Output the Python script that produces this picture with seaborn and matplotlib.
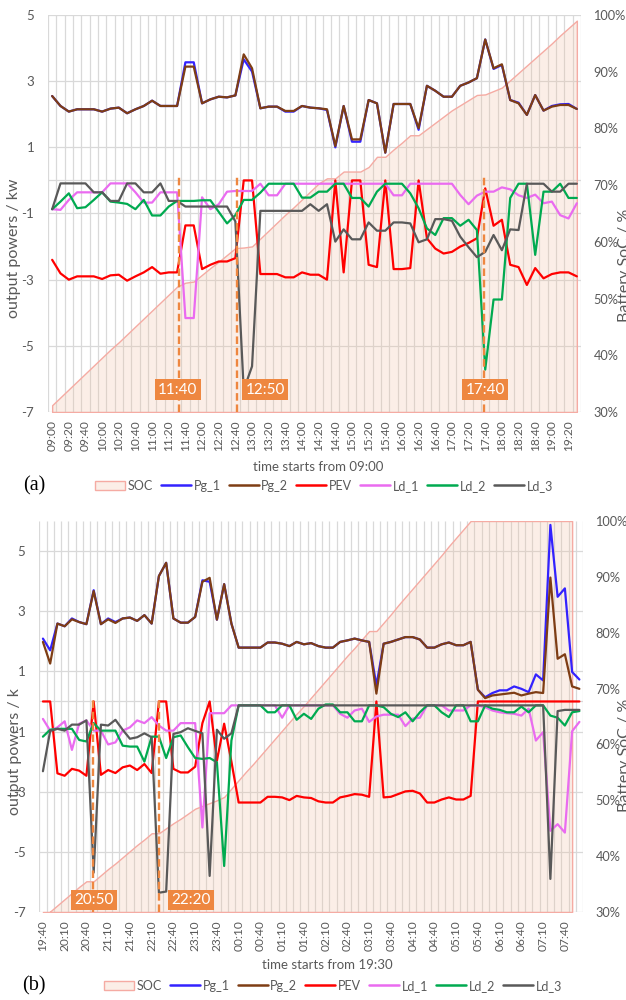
import numpy as np
import pandas as pd
import matplotlib
matplotlib.use("Agg")
import matplotlib.pyplot as plt
import matplotlib.transforms as mtransforms
from matplotlib.patches import Patch
from matplotlib.lines import Line2D
import seaborn as sns

sns.set_theme(style="white")
plt.rcParams["font.family"] = ["Lato", "DejaVu Sans"]

# ---------------- data : panel (a) ----------------
cats_a = [t.strftime("%H:%M") for t in pd.date_range("2020-01-01 09:00", periods=64, freq="10min")]
pg1_a = [2.55, 2.25, 2.08, 2.15, 2.15, 2.15, 2.08, 2.17, 2.20, 2.03, 2.15, 2.25, 2.41, 2.25, 2.25, 2.25,
         3.57, 3.57, 2.33, 2.45, 2.53, 2.51, 2.57, 3.66, 3.29, 2.18, 2.23, 2.23, 2.08, 2.08, 2.25, 2.20,
         2.18, 2.13, 1.00, 2.25, 1.17, 1.17, 2.43, 2.33, 0.84, 2.31, 2.31, 2.31, 1.53, 2.86, 2.71, 2.53,
         2.53, 2.86, 2.96, 3.09, 4.26, 3.37, 3.49, 2.43, 2.35, 1.98, 2.58, 2.11, 2.25, 2.30, 2.31, 2.16]
pg2_a = [2.55, 2.25, 2.08, 2.15, 2.15, 2.15, 2.08, 2.17, 2.20, 2.03, 2.15, 2.25, 2.41, 2.25, 2.25, 2.25,
         3.44, 3.44, 2.33, 2.45, 2.53, 2.51, 2.57, 3.81, 3.39, 2.18, 2.23, 2.23, 2.10, 2.10, 2.25, 2.20,
         2.18, 2.15, 1.04, 2.25, 1.24, 1.24, 2.43, 2.33, 0.84, 2.31, 2.31, 2.31, 1.58, 2.86, 2.71, 2.53,
         2.53, 2.86, 2.96, 3.09, 4.26, 3.39, 3.51, 2.43, 2.33, 1.98, 2.58, 2.11, 2.23, 2.28, 2.28, 2.16]
pev_a = [-2.40, -2.81, -3.00, -2.90, -2.90, -2.90, -2.98, -2.87, -2.85, -3.03, -2.90, -2.78, -2.62, -2.82, -2.78, -2.78,
         -1.36, -1.36, -2.68, -2.55, -2.45, -2.45, -2.35, 0.00, 0.00, -2.83, -2.83, -2.83, -2.93, -2.93, -2.78, -2.85,
         -2.85, -3.00, 0.00, -2.78, 0.00, 0.00, -2.55, -2.62, 0.00, -2.68, -2.68, -2.65, 0.00, -1.75, -2.06, -2.21,
         -2.16, -2.00, -1.89, -1.75, -0.24, -1.37, -1.19, -2.55, -2.62, -3.16, -2.65, -2.96, -2.83, -2.78, -2.78, -2.90]
ld1_a = [-0.87, -0.89, -0.59, -0.36, -0.36, -0.36, -0.36, -0.09, -0.09, -0.09, -0.36, -0.67, -0.67, -0.36, -0.36, -0.36,
         -4.16, -4.16, -0.51, -0.87, -0.72, -0.34, -0.32, -0.32, -0.32, -0.10, -0.45, -0.45, -0.10, -0.10, -0.10, -0.10,
         -0.10, -0.10, -0.10, -0.10, -0.10, -0.10, -0.10, -0.10, -0.10, -0.45, -0.45, -0.10, -0.10, -0.10, -0.10, -0.10,
         -0.10, -0.44, -0.72, -0.46, -0.34, -0.34, -0.21, -0.27, -0.45, -0.53, -0.43, -0.69, -0.64, -1.05, -1.15, -0.69]
ld2_a = [-0.87, -0.64, -0.39, -0.84, -0.81, -0.59, -0.36, -0.64, -0.67, -0.71, -0.87, -0.59, -1.06, -1.06, -0.79, -0.62,
         -0.62, -0.62, -0.60, -0.60, -0.95, -1.30, -1.05, -0.59, -0.59, -0.37, -0.10, -0.10, -0.10, -0.10, -0.52, -0.52,
         -0.34, -0.34, -0.10, -0.10, -0.53, -0.53, -0.79, -0.34, -0.10, -0.10, -0.10, -0.39, -0.84, -1.45, -1.65, -1.14,
         -1.14, -1.37, -1.19, -1.50, -5.72, -3.60, -3.60, -0.53, -0.10, -0.10, -2.25, -0.34, -0.34, -0.10, -0.53, -0.53]
ld3_a = [-0.87, -0.09, -0.09, -0.09, -0.09, -0.36, -0.36, -0.62, -0.62, -0.09, -0.09, -0.36, -0.36, -0.09, -0.62, -0.62,
         -0.79, -0.79, -0.79, -0.79, -0.79, -0.79, -1.24, -6.33, -5.62, -0.92, -0.92, -0.92, -0.92, -0.92, -0.92, -0.72,
         -0.92, -0.72, -1.85, -1.48, -1.78, -1.78, -1.27, -1.52, -1.52, -1.27, -1.27, -1.30, -1.87, -1.78, -1.17, -1.17,
         -1.22, -1.70, -2.02, -2.32, -2.16, -1.65, -2.11, -1.48, -1.50, -0.10, -0.10, -0.10, -0.34, -0.34, -0.10, -0.10]
soc_a = [31.2, 32.6, 34.0, 35.4, 36.8, 38.2, 39.6, 41.0, 42.3, 43.7, 45.1, 46.5, 47.9, 49.3, 50.7, 52.1,
         52.8, 53.0, 54.2, 55.4, 56.5, 57.7, 58.9, 59.0, 59.2, 60.6, 62.0, 63.4, 64.8, 66.1, 67.5, 68.9,
         70.3, 71.2, 71.2, 72.4, 72.4, 72.4, 73.2, 75.0, 75.0, 76.3, 77.5, 78.8, 78.8, 79.9, 81.0, 82.1,
         83.2, 84.1, 85.0, 85.9, 86.0, 86.6, 87.2, 88.5, 89.8, 91.1, 92.4, 93.7, 95.0, 96.4, 97.7, 99.0]
events_a = ["11:40", "12:50", "17:40"]

# ---------------- data : panel (b) ----------------
cats_b = [t.strftime("%H:%M") for t in pd.date_range("2020-01-01 19:40", periods=75, freq="10min")]
pg1_b = [2.09, 1.70, 2.59, 2.50, 2.76, 2.64, 2.57, 3.70, 2.57, 2.76, 2.64, 2.76, 2.79, 2.68, 2.87, 2.59,
         4.17, 4.61, 2.76, 2.62, 2.62, 2.81, 4.03, 3.98, 2.72, 3.90, 2.59, 1.79, 1.79, 1.79, 1.79, 1.96,
         1.96, 1.92, 1.84, 1.98, 1.90, 1.94, 1.84, 1.79, 1.79, 1.98, 2.03, 2.09, 2.03, 1.98, 0.53, 1.92,
         1.98, 2.06, 2.14, 2.14, 2.06, 1.79, 1.79, 1.90, 1.96, 1.87, 1.87, 1.98, 0.39, 0.14, 0.28, 0.37,
         0.37, 0.50, 0.42, 0.31, 0.90, 0.70, 5.87, 3.48, 3.76, 0.98, 0.73]
pg2_b = [1.98, 1.26, 2.59, 2.50, 2.73, 2.64, 2.57, 3.67, 2.57, 2.73, 2.61, 2.76, 2.79, 2.68, 2.87, 2.59,
         4.17, 4.61, 2.76, 2.62, 2.62, 2.81, 3.98, 4.11, 2.72, 3.90, 2.59, 1.79, 1.79, 1.79, 1.79, 1.96,
         1.96, 1.92, 1.84, 1.98, 1.90, 1.94, 1.84, 1.79, 1.79, 1.98, 2.03, 2.09, 2.03, 1.98, 0.26, 1.92,
         1.98, 2.06, 2.14, 2.14, 2.06, 1.79, 1.79, 1.90, 1.96, 1.87, 1.87, 1.98, 0.39, 0.11, 0.20, 0.23,
         0.26, 0.29, 0.20, 0.26, 0.31, 0.28, 4.12, 1.42, 1.57, 0.50, 0.42]
pev_b = [0.00, 0.00, -2.39, -2.47, -2.24, -2.30, -2.47, 0.00, -2.44, -2.28, -2.38, -2.19, -2.13, -2.28, -2.08, -2.38,
         0.00, 0.00, -2.24, -2.36, -2.36, -2.17, -0.72, 0.00, -1.97, -0.74, -2.00, -3.36, -3.36, -3.36, -3.36, -3.17,
         -3.17, -3.19, -3.28, -3.14, -3.19, -3.21, -3.32, -3.36, -3.36, -3.19, -3.14, -3.08, -3.10, -3.17, 0.00, -3.19,
         -3.17, -3.08, -2.99, -2.97, -3.06, -3.36, -3.36, -3.26, -3.19, -3.26, -3.26, -3.14, 0.00, 0.00, 0.00, 0.00,
         0.00, 0.00, 0.00, 0.00, 0.00, 0.00, 0.00, 0.00, 0.00, 0.00, 0.00]
ld1_b = [-0.58, -0.97, -0.86, -0.66, -1.61, -0.74, -0.63, -0.97, -0.97, -1.43, -1.36, -0.97, -0.86, -0.63, -0.72, -0.52,
         -0.80, -0.97, -0.97, -0.72, -0.72, -0.72, -4.19, -0.39, -0.39, -0.39, -0.13, -0.13, -0.13, -0.13, -0.13, -0.13,
         -0.13, -0.54, -0.13, -0.13, -0.13, -0.13, -0.13, -0.13, -0.13, -0.41, -0.54, -0.30, -0.24, -0.68, -0.50, -0.44,
         -0.44, -0.44, -0.82, -0.57, -0.54, -0.13, -0.13, -0.13, -0.30, -0.30, -0.30, -0.13, -0.13, -0.19, -0.30, -0.36,
         -0.39, -0.41, -0.47, -0.24, -1.30, -1.02, -4.30, -4.08, -4.36, -0.99, -0.68]
ld2_b = [-1.17, -0.94, -0.91, -0.91, -0.91, -1.28, -1.33, -0.72, -0.97, -0.97, -0.97, -1.47, -1.50, -1.50, -2.00, -1.17,
         -1.17, -1.88, -1.19, -1.13, -1.52, -1.88, -1.91, -1.88, -2.02, -5.47, -1.30, -0.13, -0.13, -0.13, -0.13, -0.36,
         -0.36, -0.13, -0.13, -0.61, -0.41, -0.58, -0.24, -0.10, -0.10, -0.36, -0.36, -0.66, -0.66, -0.13, -0.13, -0.19,
         -0.41, -0.52, -0.36, -0.66, -0.36, -0.13, -0.13, -0.36, -0.52, -0.13, -0.13, -0.66, -0.66, -0.13, -0.24, -0.28,
         -0.36, -0.36, -0.17, -0.36, -0.13, -0.13, -0.47, -0.54, -0.80, -0.36, -0.32]
ld3_b = [-2.32, -0.98, -0.91, -0.97, -0.77, -0.77, -0.63, -5.69, -0.77, -0.80, -0.61, -0.94, -1.24, -1.19, -1.06, -1.19,
         -6.36, -6.32, -1.08, -1.02, -0.89, -0.98, -1.06, -5.80, -0.94, -1.24, -1.06, -0.13, -0.13, -0.13, -0.13, -0.13,
         -0.13, -0.13, -0.13, -0.13, -0.13, -0.13, -0.13, -0.13, -0.13, -0.13, -0.13, -0.13, -0.13, -0.13, -0.13, -0.13,
         -0.13, -0.13, -0.13, -0.13, -0.13, -0.13, -0.13, -0.13, -0.13, -0.13, -0.13, -0.13, -0.13, -0.13, -0.13, -0.13,
         -0.13, -0.13, -0.13, -0.13, -0.13, -0.13, -5.90, -0.32, -0.28, -0.28, -0.28]
soc_b = [29.0, 30.1, 31.2, 32.3, 33.4, 34.5, 35.5, 35.5, 36.6, 37.7, 38.7, 39.8, 40.9, 42.0, 43.0, 44.1,
         44.1, 45.0, 45.9, 46.7, 47.6, 48.5, 49.0, 49.5, 50.0, 50.6, 52.1, 53.6, 55.1, 56.5, 58.0, 59.5,
         61.0, 62.5, 64.0, 65.5, 66.9, 68.4, 69.9, 71.4, 72.9, 74.4, 75.9, 77.3, 78.8, 80.3, 80.3, 81.8,
         83.3, 84.9, 86.4, 87.9, 89.4, 90.9, 92.4, 93.9, 95.5, 97.0, 98.5, 100.0, 100.0, 100.0, 100.0, 100.0,
         100.0, 100.0, 100.0, 100.0, 100.0, 100.0, 100.0, 100.0, 100.0, 100.0, np.nan]
events_b = ["20:50", "22:20"]

SERIES = ["Pg_1", "Pg_2", "PEV", "Ld_1", "Ld_2", "Ld_3"]
COLORS = {"Pg_1": "#3322FF", "Pg_2": "#7E3D14", "PEV": "#FF0000",
          "Ld_1": "#EA6BF0", "Ld_2": "#00AA50", "Ld_3": "#595959"}
GRID = "#D9D9D9"
TXT = "#595959"
ORANGE = "#EE8740"
SOC_FACE = (240 / 255, 188 / 255, 158 / 255, 0.24)
SOC_EDGE = "#F5ABA3"

W, H = 626, 1000
fig = plt.figure(figsize=(W / 100, H / 100), dpi=100)


def draw_panel(rect, cats, values, soc, ylo, yhi, step, events, line_shift, label_shift, box_y):
    L, T, R, B = rect
    pos = [L / W, 1 - B / H, (R - L) / W, (B - T) / H]
    n = len(cats)
    x = np.arange(n)
    axb = fig.add_axes(pos)
    axf = fig.add_axes(pos, sharex=axb)
    axf.patch.set_visible(False)
    for a in (axb, axf):
        for s in a.spines.values():
            s.set_visible(False)
        a.grid(False)
    axb.set_xlim(-0.5, n - 0.5)
    axf.set_ylim(ylo, yhi)
    axb.set_ylim(30, 100)

    # grid (drawn on back axes, beneath the SOC area)
    tb = mtransforms.blended_transform_factory(axb.transData, axb.transAxes)
    axb.vlines(np.arange(n + 1) - 0.5, 0, 1, transform=tb, colors=GRID, lw=0.9, zorder=0)
    th = mtransforms.blended_transform_factory(axb.transAxes, axf.transData)
    yt = list(range(-7, int(yhi) + 1, 2))
    for v in yt + [0]:
        axb.plot([0, 1], [v, v], transform=th, color=GRID, lw=0.9, zorder=0)

    # SOC area
    soc = np.asarray(soc, dtype=float)
    ok = ~np.isnan(soc)
    axb.fill_between(x[ok], 30, soc[ok], facecolor=SOC_FACE, edgecolor=SOC_EDGE, lw=1.0, zorder=2)
    axb.yaxis.tick_right()
    axb.set_yticks(range(30, 101, 10))
    axb.set_yticklabels([f"{v}%" for v in range(30, 101, 10)])
    axb.tick_params(axis="y", length=0, pad=9, labelsize=9.2, labelcolor=TXT)
    axb.tick_params(axis="x", labelbottom=False, length=0)

    # power lines via seaborn
    df = pd.DataFrame({"idx": np.tile(x, len(SERIES)),
                       "value": np.concatenate([values[s] for s in SERIES]),
                       "series": np.repeat(SERIES, n)})
    sns.lineplot(data=df, x="idx", y="value", hue="series", hue_order=SERIES,
                 palette=COLORS, ax=axf, legend=False, linewidth=1.6, errorbar=None)
    axf.set_xlabel("")
    axf.set_ylabel("")
    axf.set_yticks(yt)
    axf.set_yticklabels([str(v) for v in yt])
    axf.set_xticks(x[::step])
    axf.set_xticklabels(cats[::step], rotation=90)
    axf.tick_params(axis="y", length=0, pad=10, labelsize=9.5, labelcolor=TXT)
    axf.tick_params(axis="x", length=0, pad=6, labelsize=8.6, labelcolor=TXT)
    axf.set_xlim(-0.5, n - 0.5)

    # event markers
    for ev, ls, lb in zip(events, line_shift, label_shift):
        i = cats.index(ev)
        axf.vlines(i + ls, ylo, 0.1, colors=ORANGE, linestyles=(0, (3.2, 1.6)), lw=1.7, zorder=5)
        axf.text(i + lb, box_y, ev, ha="center", va="center", color="white", fontsize=11, zorder=6,
                 bbox=dict(boxstyle="square,pad=0.22", fc=ORANGE, ec="none"))
    return axf, axb


vals_a = {"Pg_1": pg1_a, "Pg_2": pg2_a, "PEV": pev_a, "Ld_1": ld1_a, "Ld_2": ld2_a, "Ld_3": ld3_a}
vals_b = {"Pg_1": pg1_b, "Pg_2": pg2_b, "PEV": pev_b, "Ld_1": ld1_b, "Ld_2": ld2_b, "Ld_3": ld3_b}

draw_panel((48, 15, 581, 412), cats_a, vals_a, soc_a, -7, 5, 2, events_a,
           [-0.8, -0.8, -0.2], [-0.9, 2.6, 0.0], -6.33)
draw_panel((39.3, 521, 583, 912), cats_b, vals_b, soc_b, -7, 6, 3, events_b,
           [-0.05, 0.0], [0.1, 4.4], -6.6)

# axis titles
fig.text(14 / W, 1 - 248 / H, "output powers / kw", rotation=90, ha="center", va="center",
         fontsize=11.5, color=TXT)
fig.text(15 / W, 1 - 752 / H, "output powers / k", rotation=90, ha="center", va="center",
         fontsize=11.5, color=TXT)
fig.text(618 / W, 1 - 265 / H, "Battery SoC / %", rotation=90, ha="left", va="center",
         fontsize=11.5, color=TXT)
fig.text(618 / W, 1 - 755 / H, "Battery SoC / %", rotation=90, ha="left", va="center",
         fontsize=11.5, color=TXT)
fig.text(318 / W, 1 - 467 / H, "time starts from 09:00", ha="center", va="center", fontsize=9.5, color=TXT)
fig.text(327 / W, 1 - 965 / H, "time starts from 19:30", ha="center", va="center", fontsize=9.5, color=TXT)
fig.text(34 / W, 1 - 486 / H, "(a)", ha="center", va="center", fontsize=14.5, family="Liberation Serif",
         color="black")
fig.text(34 / W, 1 - 986 / H, "(b)", ha="center", va="center", fontsize=14.5, family="Liberation Serif",
         color="black")

# legends
handles = [Patch(facecolor=SOC_FACE, edgecolor=SOC_EDGE, lw=1.0, label="SOC")]
handles += [Line2D([], [], color=COLORS[s], lw=1.8, label=s) for s in SERIES]
for cy, cx in ((486, 324), (986, 333)):
    fig.legend(handles=handles, loc="center", bbox_to_anchor=(cx / W, 1 - cy / H), ncol=7,
               frameon=False, fontsize=9, handlelength=2.4, handletextpad=0.2, columnspacing=0.65,
               labelcolor=TXT, handleheight=0.8)

fig.savefig("out.png", dpi=100)
